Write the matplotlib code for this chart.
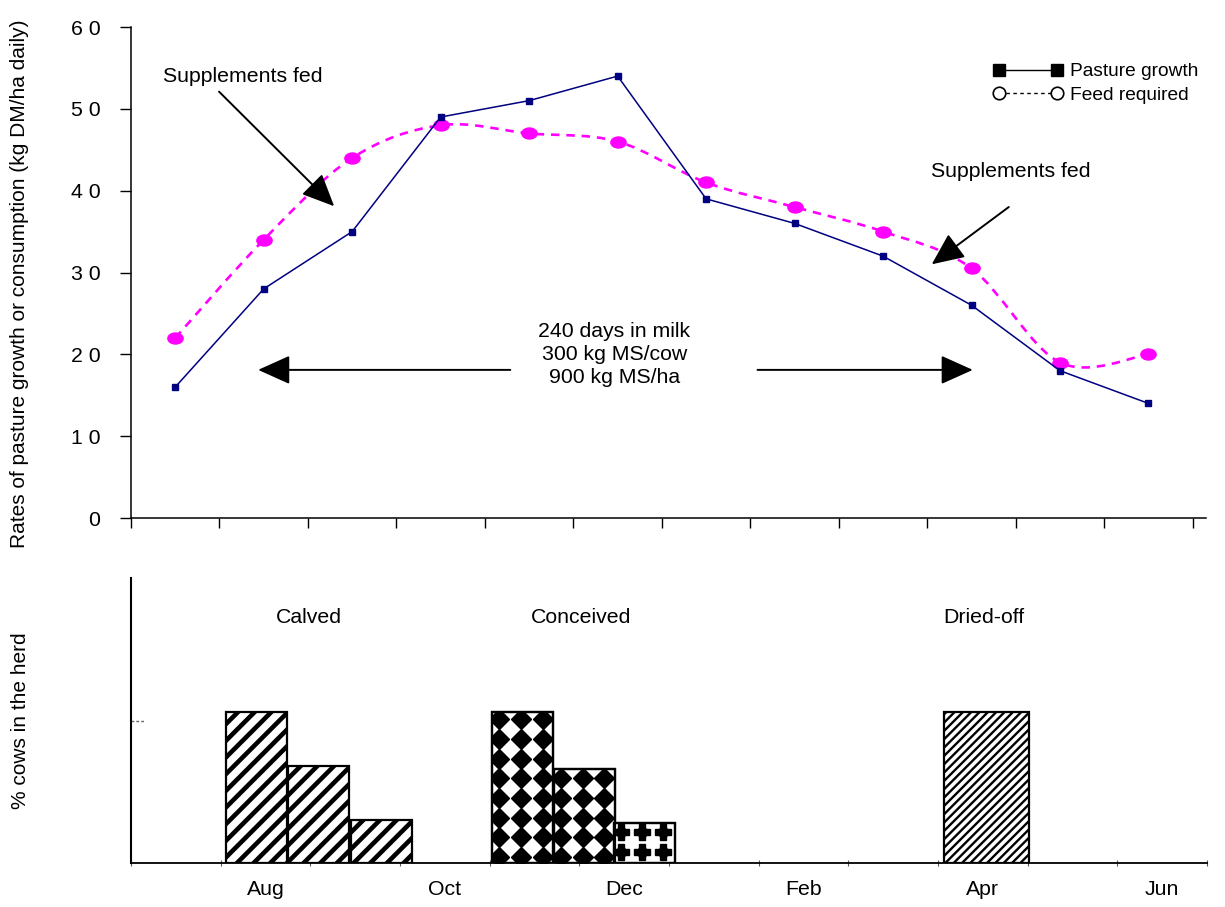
import numpy as np
import matplotlib
matplotlib.use('Agg')
import matplotlib.pyplot as plt
from matplotlib.path import Path
from matplotlib.patches import PathPatch
from matplotlib.lines import Line2D
from matplotlib.transforms import Affine2D, blended_transform_factory

plt.rcParams['font.family'] = ['Liberation Sans', 'DejaVu Sans']
FS = 15.3

# ---------------- data ----------------
months = ['Jul', 'Aug', 'Sep', 'Oct', 'Nov', 'Dec', 'Jan', 'Feb', 'Mar', 'Apr', 'May', 'Jun']
pasture_growth = [16, 28, 35, 49, 51, 54, 39, 36, 32, 26, 18, 14]
feed_required = [22, 34, 44, 48, 47, 46, 41, 38, 35, 30.5, 19, 20]
y_ticks = [0, 10, 20, 30, 40, 50, 60]
y_tick_labels = ['0', '1 0', '2 0', '3 0', '4 0', '5 0', '6 0']
bottom_labels = ['Aug', 'Oct', 'Dec', 'Feb', 'Apr', 'Jun']

calved_left = [1.06, 1.75, 2.45]
calved_pct = [53, 34, 15]
conceived_left = [4.03, 4.72, 5.39]
conceived_pct = [53, 33, 14]
driedoff_left = [9.07]
driedoff_pct = [53]

# ---------------- figure ----------------
W, H = 1225, 907
fig = plt.figure(figsize=(W / 100, H / 100), dpi=100)
x0, x1 = 131, 1206
ax1 = fig.add_axes([x0 / W, 1 - 518 / H, (x1 - x0) / W, (518 - 27) / H])
ax2 = fig.add_axes([x0 / W, 1 - 863 / H, (1207 - x0) / W, (863 - 578) / H])

n = len(months)
xc = np.arange(n) + 0.5

# ---------- top panel ----------
ax1.set_xlim(0, 12.15)
ax1.set_ylim(0, 60)
for s in ['top', 'right']:
    ax1.spines[s].set_visible(False)
ax1.spines['left'].set_linewidth(1.1)
ax1.spines['bottom'].set_linewidth(1.1)
ax1.set_xticks(np.arange(n + 1))
ax1.set_xticklabels([])
ax1.tick_params(axis='x', direction='out', length=7, width=1)
ax1.set_yticks(y_ticks)
ax1.set_yticklabels(y_tick_labels, fontsize=FS)
ax1.tick_params(axis='y', direction='out', length=8, width=1, pad=14)

# smoothed feed-required curve (Excel-like Bezier smoothing)
P = np.column_stack([xc, feed_required])
verts = [P[0]]
codes = [Path.MOVETO]
for i in range(n - 1):
    p0 = P[i - 1] if i > 0 else P[i]
    p1 = P[i]
    p2 = P[i + 1]
    p3 = P[i + 2] if i + 2 < n else P[i + 1]
    verts += [p1 + (p2 - p0) / 6, p2 - (p3 - p1) / 6, p2]
    codes += [Path.CURVE4] * 3
ax1.add_patch(PathPatch(Path(verts, codes), fill=False, edgecolor='#FF00FF',
                        lw=1.9, linestyle=(0, (3.2, 2.6)), zorder=2))
ell = Path.unit_circle().transformed(Affine2D().scale(1.0, 0.72))
ax1.plot(xc, feed_required, ls='none', marker=ell, ms=11, color='#FF00FF',
         mec='#FF00FF', zorder=3)

ax1.plot(xc, pasture_growth, color='#000080', lw=1.1, marker='s', ms=5,
         mfc='#000080', mec='#000080', zorder=4)

# legend
handles = [Line2D([], [], color='black', lw=1, marker='s', ms=8.5, mfc='black', mec='black'),
           Line2D([], [], color='black', lw=1, ls=(0, (2.5, 2.5)), marker='o', ms=9,
                  mfc='white', mec='black', mew=1.2)]
fig.legend(handles, ['Pasture growth', 'Feed required'], numpoints=2, frameon=False,
           loc='upper right', bbox_to_anchor=(1198 / W, 1 - 63 / H),
           bbox_transform=fig.transFigure, borderaxespad=0, borderpad=0,
           handlelength=3.6, handletextpad=0.36, labelspacing=0.3, fontsize=13.8)

# annotations
arrow_kw = dict(arrowstyle='-|>,head_length=1.0,head_width=0.45', color='black',
                lw=1.4, mutation_scale=20, shrinkA=0, shrinkB=0)
ax1.text(0.362, 54.0, 'Supplements fed', fontsize=FS, ha='left', va='center')
ax1.annotate('', xy=(2.296, 38.1), xytext=(0.995, 52.1), arrowprops=arrow_kw)
ax1.text(9.943, 42.4, 'Supplements fed', fontsize=FS, ha='center', va='center')
ax1.annotate('', xy=(9.05, 31.0), xytext=(9.921, 38.0), arrowprops=arrow_kw)
ax1.text(5.464, 20.0, '240 days in milk\n300 kg MS/cow\n900 kg MS/ha', fontsize=FS,
         ha='center', va='center', linespacing=1.25)
ax1.annotate('', xy=(1.437, 18.1), xytext=(4.287, 18.1), arrowprops=arrow_kw)
ax1.annotate('', xy=(9.514, 18.1), xytext=(7.081, 18.1), arrowprops=arrow_kw)

# ---------- bottom panel ----------
ax2.set_xlim(0, n)
ax2.set_ylim(0, 100)
for s in ['top', 'right']:
    ax2.spines[s].set_visible(False)
ax2.spines['left'].set_linewidth(1.5)
ax2.spines['bottom'].set_linewidth(1.3)
ax2.set_xticks(np.arange(n + 1))
ax2.set_xticklabels([])
ax2.tick_params(axis='x', which='major', direction='inout', length=5, width=0.8,
                color='0.35')
ax2.set_xticks(xc[1::2], minor=True)
ax2.set_xticklabels(bottom_labels, minor=True, fontsize=FS)
ax2.tick_params(axis='x', which='minor', length=0, pad=12)
ax2.set_yticks([])
ax2.plot([0, 0.012], [50, 50], transform=blended_transform_factory(ax2.transAxes, ax2.transData),
         ls=(0, (2, 1.5)), color='0.4', lw=1, clip_on=False)

bw = 0.68


def add_bars(lefts, heights, width, hatch=None, hlw=1.0):
    with plt.rc_context({'hatch.linewidth': hlw}):
        bars = ax2.bar(lefts, heights, width=width, align='edge', color='white',
                       edgecolor='black', linewidth=1.6, hatch=hatch, zorder=2)
    for b in bars:
        if hasattr(b, 'set_hatch_linewidth'):
            b.set_hatch_linewidth(hlw)
    return bars


add_bars(calved_left, calved_pct, bw, hatch='//', hlw=3.3)
add_bars(driedoff_left, driedoff_pct, 0.94, hatch='////', hlw=1.7)
cbars = add_bars(conceived_left, conceived_pct, bw)

dx, dy = 0.241, 6.9
for k, b in enumerate(cbars):
    L, Wd, Ht = b.get_x(), b.get_width(), b.get_height()
    if k < 2:
        GX, GY = np.meshgrid(np.arange(L + 0.078, L + Wd + 0.1, dx),
                             np.arange(2.1, Ht + 3, dy))
        m = ax2.plot(GX.ravel(), GY.ravel(), ls='none', marker='D', ms=10,
                     color='black', zorder=3)
        m2 = ax2.plot(GX.ravel(), GY.ravel(), ls='none', marker='P', ms=10.5,
                      color='black', zorder=3)
    else:
        GX, GY = np.meshgrid(np.arange(L + 0.07, L + Wd + 0.1, 0.235),
                             np.arange(3.9, Ht + 3, 7.0))
        m = ax2.plot(GX.ravel(), GY.ravel(), ls='none', marker='D', ms=7.5,
                     color='black', zorder=3)
        m2 = ax2.plot(GX.ravel(), GY.ravel(), ls='none', marker='P', ms=11.5,
                      color='black', zorder=3)
    for art in m + m2:
        art.set_clip_path(b)
    ax2.bar(L, Ht, width=Wd, align='edge', fill=False, edgecolor='black',
            linewidth=1.6, zorder=4)

ax2.text(1.985, 86, 'Calved', fontsize=FS, ha='center', va='center')
ax2.text(5.02, 86, 'Conceived', fontsize=FS, ha='center', va='center')
ax2.text(9.51, 86, 'Dried-off', fontsize=FS, ha='center', va='center')

# y labels
fig.text(20 / W, 1 - 284 / H, 'Rates of pasture growth or consumption (kg DM/ha daily)',
         rotation=90, ha='center', va='center', fontsize=15.0)
fig.text(20 / W, 1 - 721 / H, '% cows in the herd', rotation=90, ha='center',
         va='center', fontsize=15.0)

fig.savefig('out.png', dpi=100)
